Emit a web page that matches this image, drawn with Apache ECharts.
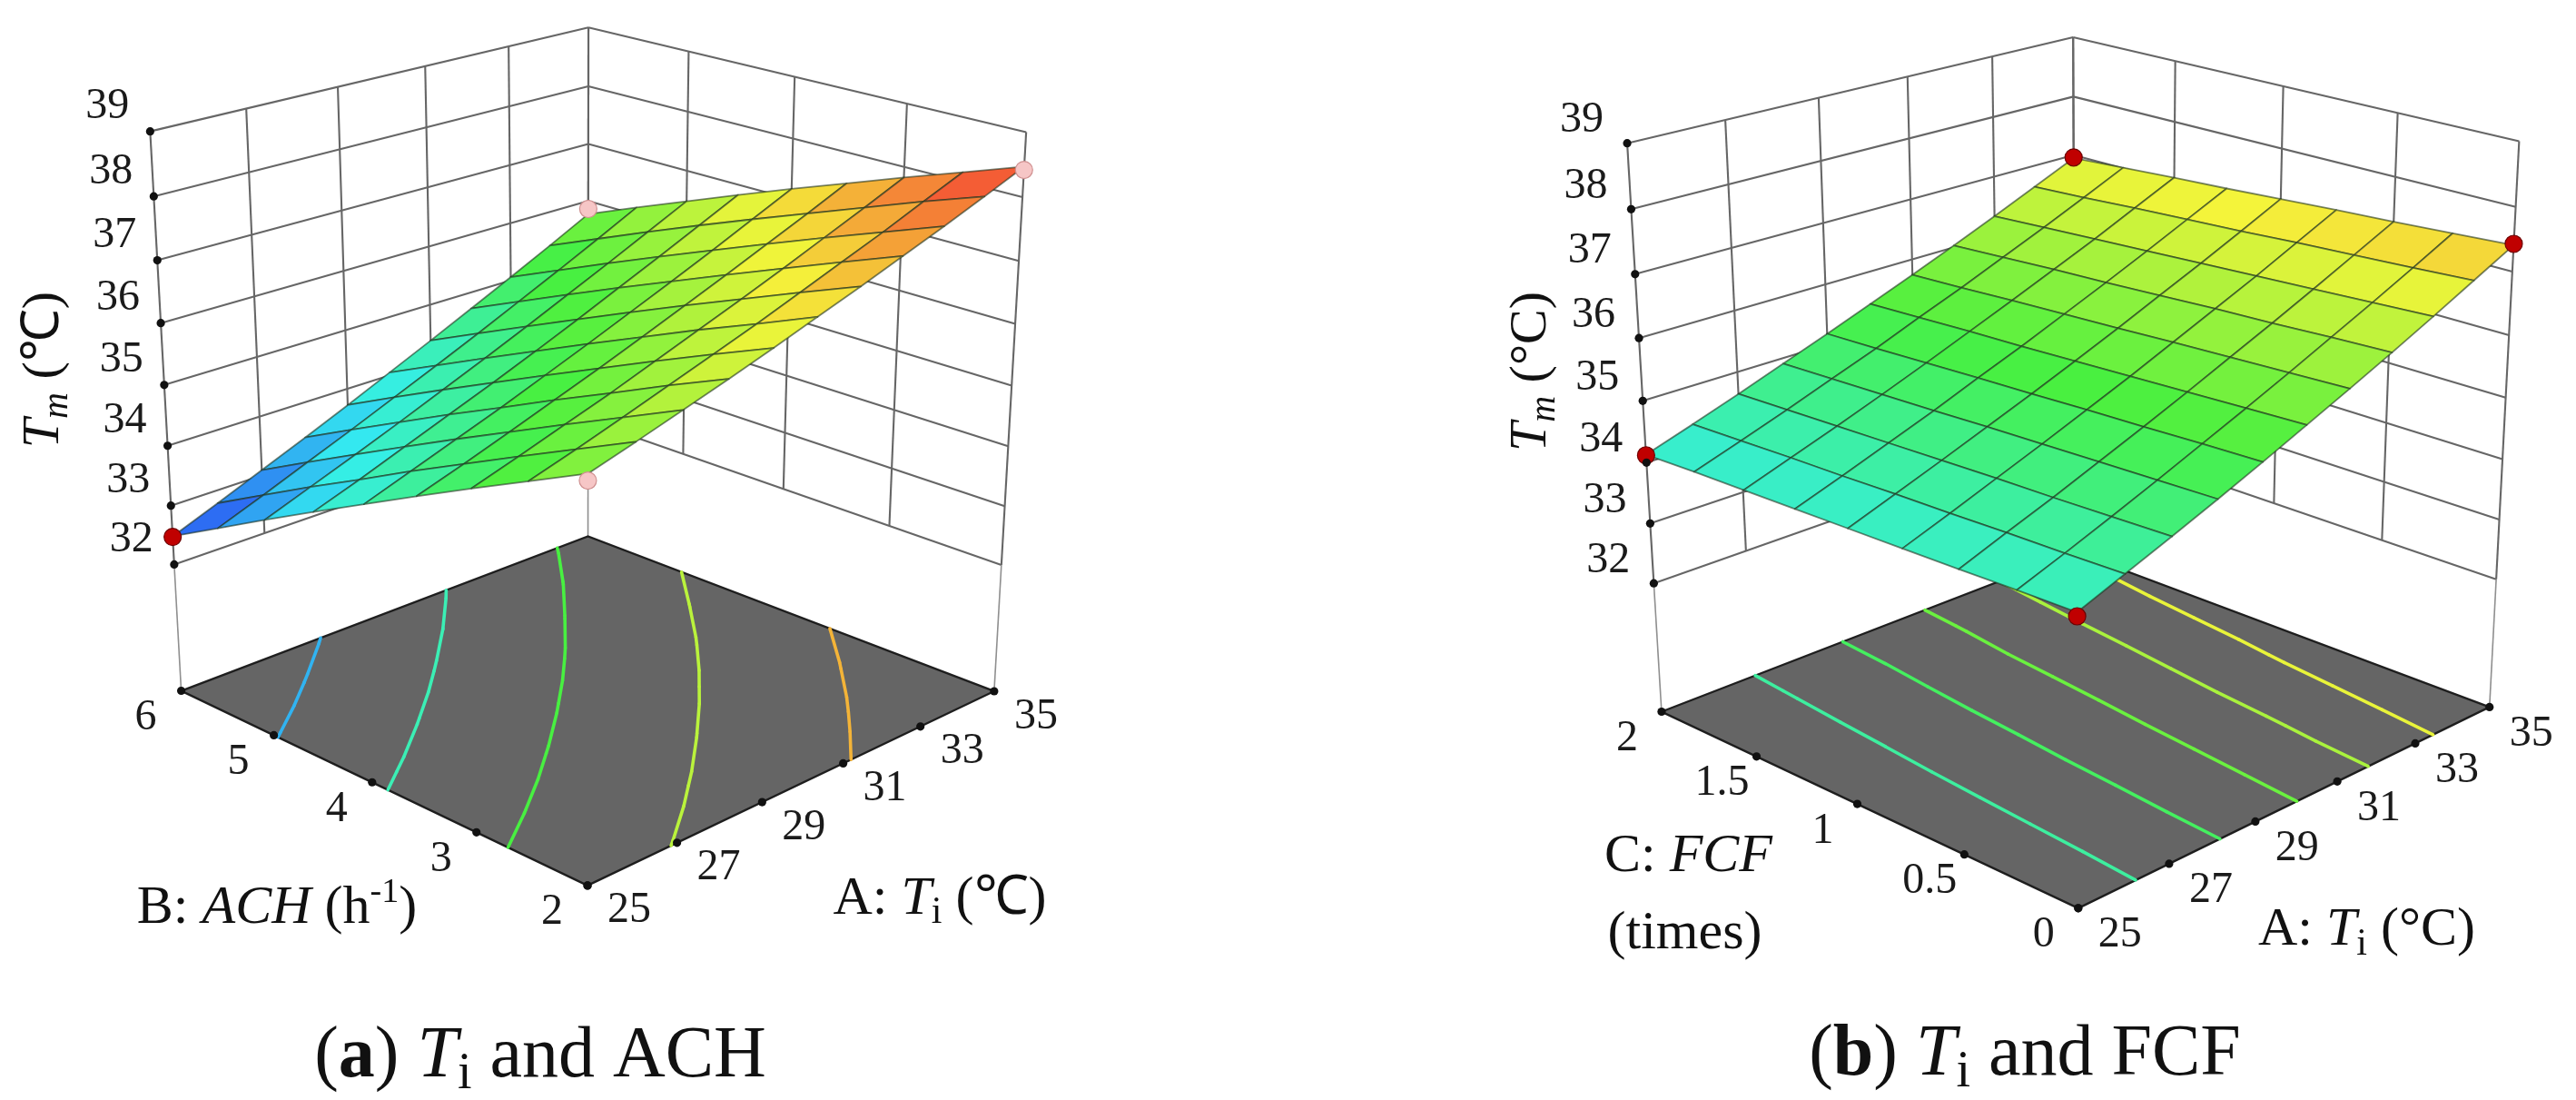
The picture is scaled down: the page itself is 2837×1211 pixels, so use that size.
<!DOCTYPE html>
<html><head><meta charset="utf-8">
<script src="https://cdn.jsdelivr.net/npm/echarts@6/dist/echarts.min.js"></script>
<style>html,body{margin:0;padding:0;background:#fff}#c{width:2837px;height:1211px}</style>
</head><body><div id="c"></div>
<script>
// ================= DATA =================
const tiTicks  = [25, 27, 29, 31, 33, 35];
const achTicks = [2, 3, 4, 5, 6];
const fcfTicks = [0, 0.5, 1, 1.5, 2];
const tmTicks  = [32, 33, 34, 35, 36, 37, 38, 39];

const gridTi  = [25, 26, 27, 28, 29, 30, 31, 32, 33, 34, 35];
const gridACH = [2, 2.5, 3, 3.5, 4, 4.5, 5, 5.5, 6];
const gridFCF = [0, 0.25, 0.5, 0.75, 1, 1.25, 1.5, 1.75, 2];

// (a) Tm surface, rows follow gridACH, columns follow gridTi
const tmSurfA = [
 [36.08,36.29,36.51,36.73,36.96,37.20,37.44,37.69,37.94,38.20,38.47],
 [35.65,35.87,36.10,36.34,36.58,36.82,37.08,37.34,37.60,37.88,38.15],
 [35.22,35.45,35.69,35.93,36.19,36.45,36.71,36.98,37.26,37.54,37.83],
 [34.78,35.02,35.27,35.53,35.79,36.06,36.34,36.62,36.91,37.20,37.50],
 [34.33,34.59,34.85,35.11,35.39,35.67,35.96,36.25,36.55,36.86,37.17],
 [33.88,34.14,34.42,34.70,34.98,35.27,35.57,35.88,36.19,36.51,36.83],
 [33.42,33.70,33.98,34.27,34.57,34.87,35.18,35.50,35.82,36.15,36.48],
 [32.95,33.24,33.54,33.84,34.15,34.46,34.78,35.11,35.44,35.78,36.13],
 [32.48,32.78,33.09,33.40,33.72,34.05,34.38,34.72,35.06,35.41,35.77]
];
// (b) Tm surface, rows follow gridFCF, columns follow gridTi
const tmSurfB = [
 [34.31,34.59,34.87,35.16,35.46,35.77,36.08,36.40,36.73,37.07,37.41],
 [34.29,34.56,34.84,35.13,35.43,35.73,36.04,36.36,36.68,37.01,37.35],
 [34.26,34.54,34.81,35.10,35.39,35.69,36.00,36.31,36.63,36.96,37.29],
 [34.24,34.51,34.79,35.07,35.36,35.65,35.96,36.27,36.58,36.91,37.24],
 [34.22,34.49,34.76,35.04,35.32,35.61,35.91,36.22,36.53,36.85,37.18],
 [34.20,34.46,34.73,35.00,35.29,35.57,35.87,36.17,36.48,36.80,37.12],
 [34.18,34.44,34.70,34.97,35.25,35.54,35.83,36.13,36.43,36.75,37.07],
 [34.16,34.41,34.67,34.94,35.21,35.50,35.78,36.08,36.38,36.69,37.01],
 [34.13,34.38,34.64,34.91,35.18,35.46,35.74,36.03,36.33,36.64,36.95]
];
const contourLevelsA = [33.46, 34.47, 35.47, 36.48, 37.49];
const contourLevelsB = [34.66, 35.21, 35.77, 36.33, 36.89];

// design points
const designTiA  = [25, 35, 25, 35];
const designAchA = [6, 6, 2, 2];
const designTmA  = [32.47, 35.86, 35.98, 38.42];
const designHidA = [0, 1, 1, 1];
const designTiB  = [25, 35, 35, 25];
const designFcfB = [2, 2, 0, 0];
const designTmB  = [34.12, 36.96, 37.43, 34.25];
const designHidB = [0, 0, 0, 0];

// ================= LAYOUT / STYLE =================
const W = 2837, H = 1211;
const FAMILY = 'Liberation Serif';
const FONT = '"Liberation Serif","Times New Roman",serif';
const FLOOR_TM = 29.8;            // level at which the contour floor is drawn
const COLOR_MIN = 32.45, COLOR_MAX = 38.5;
const COLORS = ['#2b3df4', '#34eef0', '#48f040', '#f4f43a', '#f43434'];
// screen anchors of the axis box: [Ti, factor2, Tm, x, y]
const anchorsA = [
 [25,6,39,168.6,141.6],[25,6,32,190,612],[35,6,39,647,34.7],[35,6,37,647,156.3],
 [35,2,39,1127,143],[35,2,32,1103,612],[25,6,29.8,199,761],[35,6,29.8,647,592],
 [35,2,29.8,1096.5,761],[25,2,29.8,647,975],[29,6,39,361.6,98],[35,4,39,887.7,89.3],
 [25,4,29.8,422.7,867.9],[29,2,29.8,827.5,890]
];
const anchorsB = [
 [25,2,39,1795,154.5],[25,2,32,1821,633.5],[35,2,39,2282.3,43.5],[35,2,38,2282,105.5],
 [35,0,39,2769.5,151],[35,0,32,2751.5,629.5],[25,2,29.8,1826.5,782.5],[35,2,29.8,2286,609],
 [35,0,29.8,2741,778],[25,0,29.8,2291,1000.5],[29,2,39,1993,111.6],[35,1,39,2528,100.4],
 [25,1,29.8,2058,891],[29,0,29.8,2471.5,911.5]
];

function solve(A, b) {
  const n = b.length, M = A.map((r, i) => r.concat([b[i]]));
  for (let c = 0; c < n; c++) {
    let p = c;
    for (let r = c + 1; r < n; r++) if (Math.abs(M[r][c]) > Math.abs(M[p][c])) p = r;
    const tmp = M[c]; M[c] = M[p]; M[p] = tmp;
    for (let r = 0; r < n; r++) {
      if (r === c) continue;
      const f = M[r][c] / M[c][c];
      for (let k = c; k <= n; k++) M[r][k] -= f * M[c][k];
    }
  }
  return M.map((r, i) => r[n] / r[i]);
}
function makeProjector(anchors, toWorld) {
  let cx = 0, cy = 0;
  anchors.forEach(a => { cx += a[3]; cy += a[4]; });
  cx /= anchors.length; cy /= anchors.length;
  const S = 500, N = 11;
  const ATA = Array.from({length: N}, () => new Array(N).fill(0));
  const ATb = new Array(N).fill(0);
  const add = (r, v) => { for (let i = 0; i < N; i++) { ATb[i] += r[i] * v; for (let k = 0; k < N; k++) ATA[i][k] += r[i] * r[k]; } };
  anchors.forEach(([p, q, t, u, v]) => {
    const [X, Y, Z] = toWorld(p, q, t);
    const uu = (u - cx) / S, vv = (v - cy) / S;
    add([X, Y, Z, 1, 0, 0, 0, 0, -uu * X, -uu * Y, -uu * Z], uu);
    add([0, 0, 0, 0, X, Y, Z, 1, -vv * X, -vv * Y, -vv * Z], vv);
  });
  const m = solve(ATA, ATb);
  return (p, q, t) => {
    const [X, Y, Z] = toWorld(p, q, t);
    const w = m[8] * X + m[9] * Y + m[10] * Z + 1;
    return [(m[0] * X + m[1] * Y + m[2] * Z + m[3]) / w * S + cx,
            (m[4] * X + m[5] * Y + m[6] * Z + m[7]) / w * S + cy, w];
  };
}

const T0 = tiTicks[0], T1 = tiTicks[tiTicks.length - 1];
const Z0 = tmTicks[0], Z1 = tmTicks[tmTicks.length - 1];

const panels = [
  { f2Min: 2, f2Max: 6, f2Ticks: achTicks, f2Grid: gridACH, surf: tmSurfA, levels: contourLevelsA,
    dTi: designTiA, dF2: designAchA, dTm: designTmA, dHid: designHidA, anchors: anchorsA,
    tmOff: [-47, -27], f2Off: [-39, 30], tiOff: [46, 28] },
  { f2Min: 0, f2Max: 2, f2Ticks: fcfTicks, f2Grid: gridFCF, surf: tmSurfB, levels: contourLevelsB,
    dTi: designTiB, dF2: designFcfB, dTm: designTmB, dHid: designHidB, anchors: anchorsB,
    tmOff: [-50, -25], f2Off: [-38, 30], tiOff: [46, 30] }
];
panels.forEach(P => {
  const toWorld = (ti, f2, tm) => [(ti - T0) / (T1 - T0), (P.f2Max - f2) / (P.f2Max - P.f2Min), (tm - Z0) / (Z1 - Z0)];
  P.proj = makeProjector(P.anchors, toWorld);
});
function pt(P, ti, f2, tm, api) { const s = P.proj(ti, f2, tm); return api.coord([s[0], s[1]]); }

// ---------- item builders ----------
function wallItems(P) {
  const it = [];
  tiTicks.forEach(t => it.push([0, t]));
  tmTicks.forEach(z => it.push([1, z]));
  P.f2Ticks.forEach(f => it.push([2, f]));
  tmTicks.forEach(z => it.push([3, z]));
  it.push([4, 0], [4, 1], [4, 2]);
  return it;
}
function surfaceItems(P) {
  const it = [], G = P.surf, xs = gridTi, ys = P.f2Grid;
  for (let j = 0; j < ys.length - 1; j++) for (let i = 0; i < xs.length - 1; i++) {
    const v = [G[j][i], G[j][i + 1], G[j + 1][i + 1], G[j + 1][i]];
    const mean = (v[0] + v[1] + v[2] + v[3]) / 4;
    const d = P.proj(xs[i], ys[j], v[0])[2] + P.proj(xs[i + 1], ys[j], v[1])[2] +
              P.proj(xs[i + 1], ys[j + 1], v[2])[2] + P.proj(xs[i], ys[j + 1], v[3])[2];
    it.push([mean, i, j, d]);
  }
  it.sort((a, b) => b[3] - a[3]);
  return it;
}
function contourItems(P) {
  const it = [], G = P.surf, xs = gridTi, ys = P.f2Grid;
  P.levels.forEach(L => {
    for (let j = 0; j < ys.length - 1; j++) for (let i = 0; i < xs.length - 1; i++) {
      const c = [[xs[i], ys[j], G[j][i]], [xs[i + 1], ys[j], G[j][i + 1]],
                 [xs[i + 1], ys[j + 1], G[j + 1][i + 1]], [xs[i], ys[j + 1], G[j + 1][i]]];
      const pts = [];
      for (let e = 0; e < 4; e++) {
        const p = c[e], q = c[(e + 1) % 4];
        if ((p[2] >= L) !== (q[2] >= L)) {
          const t = (L - p[2]) / (q[2] - p[2]);
          pts.push([p[0] + t * (q[0] - p[0]), p[1] + t * (q[1] - p[1])]);
        }
      }
      if (pts.length === 2) it.push([L, pts[0][0], pts[0][1], pts[1][0], pts[1][1]]);
      else if (pts.length === 4) {
        it.push([L, pts[0][0], pts[0][1], pts[1][0], pts[1][1]]);
        it.push([L, pts[2][0], pts[2][1], pts[3][0], pts[3][1]]);
      }
    }
  });
  return it;
}
function tickItems(P) {
  const it = [];
  tmTicks.forEach(z => it.push([0, z]));
  P.f2Ticks.forEach(f => it.push([1, f]));
  tiTicks.forEach(t => it.push([2, t]));
  return it;
}
function tickPoint(P, k, v) {
  if (k === 0) return { p: P.proj(T0, P.f2Max, v), off: P.tmOff };
  if (k === 1) return { p: P.proj(T0, v, FLOOR_TM), off: P.f2Off };
  return { p: P.proj(v, P.f2Min, FLOOR_TM), off: P.tiOff };
}
function designItems(P) { return P.dTi.map((t, k) => [P.dTm[k], t, P.dF2[k], P.dHid[k]]); }

// ---------- render functions ----------
function wallsRender(P) {
  return (params, api) => {
    const k = api.value(0), v = api.value(1);
    let a, b;
    if (k === 0) { a = pt(P, v, P.f2Max, Z0, api); b = pt(P, v, P.f2Max, Z1, api); }
    else if (k === 1) { a = pt(P, T0, P.f2Max, v, api); b = pt(P, T1, P.f2Max, v, api); }
    else if (k === 2) { a = pt(P, T1, v, Z0, api); b = pt(P, T1, v, Z1, api); }
    else if (k === 3) { a = pt(P, T1, P.f2Max, v, api); b = pt(P, T1, P.f2Min, v, api); }
    else {
      const c = [[T0, P.f2Max], [T1, P.f2Max], [T1, P.f2Min]][v];
      a = pt(P, c[0], c[1], Z0, api); b = pt(P, c[0], c[1], FLOOR_TM, api);
    }
    return { type: 'line', shape: { x1: a[0], y1: a[1], x2: b[0], y2: b[1] },
      style: { stroke: k === 4 ? '#8f8f8f' : '#666666', lineWidth: k === 4 ? 1.6 : 2.1 } };
  };
}
function floorRender(P) {
  return (params, api) => {
    const pts = [pt(P, T0, P.f2Max, FLOOR_TM, api), pt(P, T1, P.f2Max, FLOOR_TM, api),
                 pt(P, T1, P.f2Min, FLOOR_TM, api), pt(P, T0, P.f2Min, FLOOR_TM, api)];
    return { type: 'polygon', shape: { points: pts }, style: { fill: '#656565', stroke: '#1e1e1e', lineWidth: 2.4 } };
  };
}
function contourRender(P) {
  return (params, api) => {
    const a = pt(P, api.value(1), api.value(2), FLOOR_TM, api);
    const b = pt(P, api.value(3), api.value(4), FLOOR_TM, api);
    return { type: 'line', shape: { x1: a[0], y1: a[1], x2: b[0], y2: b[1] },
      style: { stroke: api.visual('color'), lineWidth: 3.6, lineCap: 'round' } };
  };
}
function surfaceRender(P) {
  return (params, api) => {
    const i = api.value(1), j = api.value(2), G = P.surf, xs = gridTi, ys = P.f2Grid;
    const pts = [pt(P, xs[i], ys[j], G[j][i], api), pt(P, xs[i + 1], ys[j], G[j][i + 1], api),
                 pt(P, xs[i + 1], ys[j + 1], G[j + 1][i + 1], api), pt(P, xs[i], ys[j + 1], G[j + 1][i], api)];
    return { type: 'polygon', shape: { points: pts },
      style: { fill: api.visual('color'), stroke: 'rgba(30,50,30,0.6)', lineWidth: 1.8, lineJoin: 'round' } };
  };
}
function tickDotRender(P) {
  return (params, api) => {
    const tp = tickPoint(P, api.value(0), api.value(1));
    const p = api.coord([tp.p[0], tp.p[1]]);
    return { type: 'circle', shape: { cx: p[0], cy: p[1], r: 4.6 }, style: { fill: '#111' } };
  };
}
function designRender(P) {
  return (params, api) => {
    const p = pt(P, api.value(1), api.value(2), api.value(0), api);
    const hid = api.value(3) === 1;
    return { type: 'circle', shape: { cx: p[0], cy: p[1], r: 9.5 },
      style: hid ? { fill: '#f6c6c6', stroke: '#cf9090', lineWidth: 1.2 }
                 : { fill: '#c00000', stroke: '#6e0000', lineWidth: 1.2 } };
  };
}

// ---------- text helper ----------
const mctx = document.createElement('canvas').getContext('2d');
function fontOf(r) { return (r.it ? 'italic ' : '') + (r.b ? 'bold ' : '') + r.s + 'px ' + FONT; }
function textRuns(runs, x, y, rotation) {
  let total = 0;
  const ws = runs.map(r => { mctx.font = fontOf(r); const w = mctx.measureText(r.t).width; total += w; return w; });
  let cx = -total / 2;
  const children = runs.map((r, i) => {
    const el = { type: 'text', x: cx, y: (r.dy || 0) - 0.3 * r.s,
      style: { text: r.t, font: fontOf(r), fill: '#111', textAlign: 'left', textVerticalAlign: 'middle',
               align: 'left', verticalAlign: 'middle' } };
    cx += ws[i];
    return el;
  });
  return { type: 'group', x: x, y: y, rotation: rotation || 0, children: children };
}

const graphics = [
  textRuns([{t:'T',it:1,s:58},{t:'m',it:1,s:40,dy:9},{t:' (\u2103)',s:58}], 66.5, 407, Math.PI / 2),
  textRuns([{t:'B: ',s:60},{t:'ACH',it:1,s:60},{t:' (h',s:60},{t:'-1',s:38,dy:-24},{t:')',s:60}], 305, 1018),
  textRuns([{t:'A: ',s:60},{t:'T',it:1,s:60},{t:'i',s:42,dy:10},{t:' (\u2103)',s:60}], 1035, 1008),
  textRuns([{t:'(',s:80},{t:'a',b:1,s:80},{t:') ',s:80},{t:'T',it:1,s:80},{t:'i',s:56,dy:12},{t:' and ACH',s:80}], 595, 1188),
  textRuns([{t:'T',it:1,s:58},{t:'m',it:1,s:40,dy:9},{t:' (\u00B0C)',s:58}], 1704.5, 409, Math.PI / 2),
  textRuns([{t:'C: ',s:60},{t:'FCF',it:1,s:60}], 1859.5, 961.5),
  textRuns([{t:'(times)',s:60}], 1855.5, 1046.5),
  textRuns([{t:'A: ',s:60},{t:'T',it:1,s:60},{t:'i',s:42,dy:10},{t:' (\u00B0C)',s:60}], 2606.5, 1042.6),
  textRuns([{t:'(',s:80},{t:'b',b:1,s:80},{t:') ',s:80},{t:'T',it:1,s:80},{t:'i',s:56,dy:12},{t:' and FCF',s:80}], 2230, 1186)
];
// tick labels (from the tick arrays, placed through the same projection)
panels.forEach(P => {
  tickItems(P).forEach(([k, v]) => {
    const tp = tickPoint(P, k, v);
    graphics.push({ type: 'text', x: tp.p[0] + tp.off[0], y: tp.p[1] + tp.off[1], z: 10,
      style: { text: String(v), font: '48px ' + FONT, fill: '#1a1a1a', textAlign: 'center',
               textVerticalAlign: 'middle', align: 'center', verticalAlign: 'middle' } });
  });
});

const series = [];
panels.forEach(P => {
  const base = { type: 'custom', coordinateSystem: 'cartesian2d', clip: false, silent: true, animation: false };
  series.push(Object.assign({}, base, { data: wallItems(P), renderItem: wallsRender(P), z: 1 }));
  series.push(Object.assign({}, base, { data: [[0, 0]], renderItem: floorRender(P), z: 2 }));
  series.push(Object.assign({}, base, { data: contourItems(P), renderItem: contourRender(P), z: 3 }));
  series.push(Object.assign({}, base, { data: surfaceItems(P), renderItem: surfaceRender(P), z: 4 }));
  series.push(Object.assign({}, base, { data: designItems(P), renderItem: designRender(P), z: 5 }));
  series.push(Object.assign({}, base, { data: tickItems(P), renderItem: tickDotRender(P), z: 6 }));
});

const chart = echarts.init(document.getElementById('c'), null, { renderer: 'canvas', width: W, height: H });
chart.setOption({
  animation: false,
  backgroundColor: '#ffffff',
  textStyle: { fontFamily: FAMILY },
  grid: { left: 0, right: 0, top: 0, bottom: 0 },
  xAxis: { type: 'value', min: 0, max: W, show: false },
  yAxis: { type: 'value', min: 0, max: H, inverse: true, show: false },
  visualMap: [{ type: 'continuous', show: false, dimension: 0, min: COLOR_MIN, max: COLOR_MAX,
                seriesIndex: [2, 3, 8, 9], inRange: { color: COLORS } }],
  graphic: { elements: graphics },
  series: series
});
</script>
</body></html>
